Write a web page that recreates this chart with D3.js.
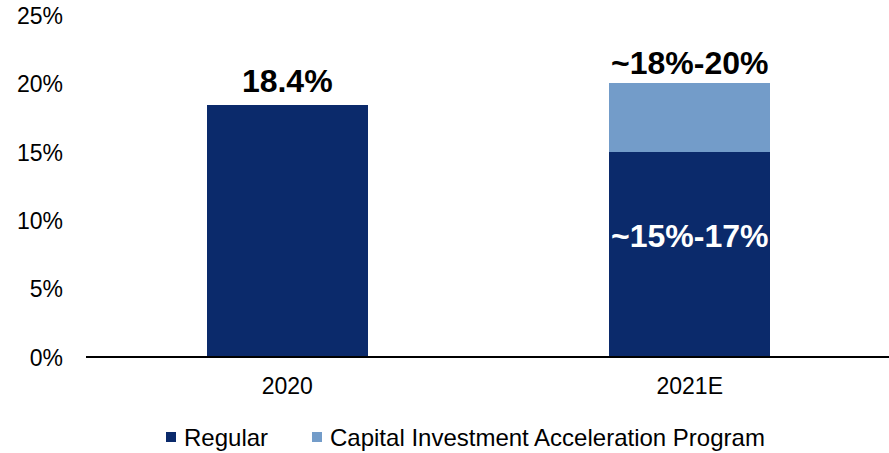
<!DOCTYPE html>
<html>
<head>
<meta charset="utf-8">
<script src="https://cdn.jsdelivr.net/npm/d3@7"></script>
<style>
  html, body { margin: 0; padding: 0; background: #fff; }
  svg { display: block; font-family: "Liberation Sans", Arial, sans-serif; }
</style>
</head>
<body>
<svg id="chart" width="889" height="453"></svg>
<script>
// Categories and series (percent of total)
const categories = ["2020", "2021E"];
const regular = [18.4, 15];
const capitalProgram = [0, 5];
const seriesNames = ["Regular", "Capital Investment Acceleration Program"];
const seriesColors = ["#0b2a6b", "#739cc9"];
const yTicks = [0, 5, 10, 15, 20, 25];
const totalLabels = ["18.4%", "~18%-20%"];
const innerLabels = ["", "~15%-17%"];

const svg = d3.select("#chart");

const x = d3.scaleBand()
  .domain(categories)
  .range([86, 891])
  .paddingInner(0.6)
  .paddingOuter(0.3);

const y = d3.scaleLinear()
  .domain([0, 25])
  .range([357, 15]);

// Stack the two series
const rows = categories.map((c, i) => ({ cat: c, regular: regular[i], capital: capitalProgram[i] }));
const stack = d3.stack().keys(["regular", "capital"]);
const layers = stack(rows);

svg.append("g")
  .attr("shape-rendering", "crispEdges")
  .selectAll("g")
  .data(layers)
  .join("g")
  .attr("fill", (d, i) => seriesColors[i])
  .selectAll("rect")
  .data(d => d)
  .join("rect")
  .attr("x", d => x(d.data.cat))
  .attr("width", x.bandwidth())
  .attr("y", d => y(d[1]))
  .attr("height", d => y(d[0]) - y(d[1]));

// Y axis (labels only, no line)
const yAxis = svg.append("g")
  .attr("transform", "translate(63,0)")
  .call(d3.axisLeft(y).tickValues(yTicks).tickFormat(d => d + "%").tickSize(0).tickPadding(0));
yAxis.select(".domain").remove();
yAxis.selectAll("text")
  .attr("font-size", 23)
  .attr("font-family", "Liberation Sans, Arial, sans-serif")
  .attr("fill", "#000")
  .attr("dy", "0.36em");

// X axis baseline and category labels
const xAxis = svg.append("g")
  .attr("transform", `translate(0,${y(0)})`)
  .call(d3.axisBottom(x).tickSize(0).tickPadding(0));
xAxis.select(".domain").remove();
xAxis.selectAll("text")
  .attr("font-size", 23)
  .attr("font-family", "Liberation Sans, Arial, sans-serif")
  .attr("fill", "#000")
  .attr("y", 37)
  .attr("dy", 0);
svg.append("line")
  .attr("x1", 86).attr("x2", 889)
  .attr("y1", y(0)).attr("y2", y(0))
  .attr("stroke", "#000").attr("stroke-width", 2);

// Total labels above each bar
const totals = categories.map((c, i) => regular[i] + capitalProgram[i]);
const totalOffsets = [13, 9];
svg.append("g")
  .selectAll("text")
  .data(categories)
  .join("text")
  .attr("x", d => x(d) + x.bandwidth() / 2)
  .attr("y", (d, i) => y(totals[i]) - totalOffsets[i])
  .attr("text-anchor", "middle")
  .attr("font-size", 32)
  .attr("font-weight", "bold")
  .attr("fill", "#000")
  .text((d, i) => totalLabels[i]);

// Label inside the regular segment
svg.append("g")
  .selectAll("text")
  .data(categories)
  .join("text")
  .attr("x", d => x(d) + x.bandwidth() / 2)
  .attr("y", (d, i) => y(regular[i]) + 95)
  .attr("text-anchor", "middle")
  .attr("font-size", 32)
  .attr("font-weight", "bold")
  .attr("fill", "#fff")
  .text((d, i) => innerLabels[i]);

// Legend
const legendX = [166, 312];
const legend = svg.append("g")
  .selectAll("g")
  .data(seriesNames)
  .join("g")
  .attr("transform", (d, i) => `translate(${legendX[i]},432)`);
legend.append("rect")
  .attr("width", 10).attr("height", 10)
  .attr("fill", (d, i) => seriesColors[i]);
legend.append("text")
  .attr("x", 18)
  .attr("y", 14)
  .attr("font-size", 24)
  .attr("fill", "#000")
  .text(d => d);
</script>
</body>
</html>
